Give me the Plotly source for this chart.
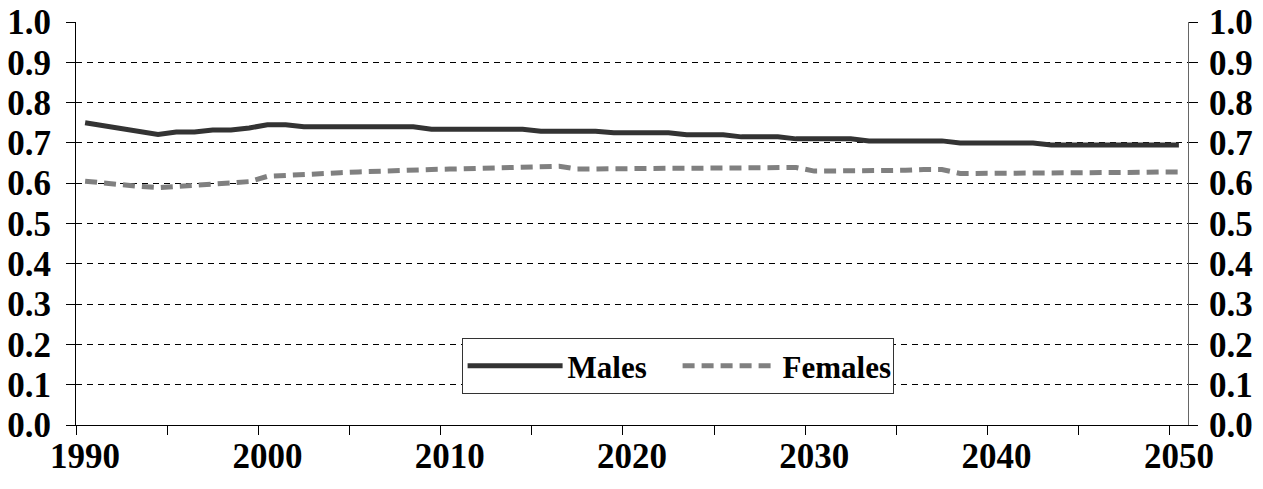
import plotly.graph_objects as go

# Annual values, 1990-2050
years = list(range(1990, 2051))

males = [
    0.750, 0.743, 0.734, 0.727, 0.721, 0.727, 0.727, 0.732, 0.732, 0.737,  # 1990-1999
    0.745, 0.745, 0.740, 0.740, 0.740, 0.740, 0.740, 0.740, 0.740, 0.734,  # 2000-2009
    0.734, 0.734, 0.734, 0.734, 0.734, 0.729, 0.729, 0.729, 0.729, 0.725,  # 2010-2019
    0.725, 0.725, 0.725, 0.720, 0.720, 0.720, 0.715, 0.715, 0.715, 0.710,  # 2020-2029
    0.710, 0.710, 0.710, 0.705, 0.705, 0.705, 0.705, 0.705, 0.700, 0.700,  # 2030-2039
    0.700, 0.700, 0.700, 0.695, 0.695, 0.695, 0.695, 0.695, 0.695, 0.695,  # 2040-2049
    0.695,                                                                 # 2050
]

females = [
    0.605, 0.600, 0.596, 0.592, 0.589, 0.592, 0.596, 0.599, 0.602, 0.604,  # 1990-1999
    0.617, 0.620, 0.622, 0.623, 0.626, 0.628, 0.630, 0.633, 0.633, 0.634,  # 2000-2009
    0.635, 0.636, 0.636, 0.639, 0.641, 0.642, 0.642, 0.635, 0.636, 0.636,  # 2010-2019
    0.635, 0.636, 0.637, 0.637, 0.637, 0.638, 0.638, 0.638, 0.639, 0.639,  # 2020-2029
    0.630, 0.630, 0.631, 0.632, 0.632, 0.632, 0.634, 0.634, 0.624, 0.624,  # 2030-2039
    0.625, 0.625, 0.625, 0.626, 0.626, 0.626, 0.627, 0.627, 0.627, 0.628,  # 2040-2049
    0.628,                                                                 # 2050
]

x_labels = list(range(1990, 2051, 10))
x_tick_marks = [1989.5 + 5 * k for k in range(13)]
y_ticks = [round(0.1 * k, 1) for k in range(11)]

SERIF = "Liberation Serif, Times New Roman, Times, serif"
TICK_FONT = dict(family=SERIF, size=35, color="black", weight=700)
LEGEND_FONT = dict(family=SERIF, size=31, color="black", weight=700)

fig = go.Figure()
fig.add_trace(go.Scatter(
    x=years, y=males, name="Males", mode="lines",
    line=dict(color="#333333", width=5),
))
fig.add_trace(go.Scatter(
    x=years, y=females, name="Females", mode="lines",
    line=dict(color="#808080", width=5, dash="12px,7px"),
))
# mirror axis on the right
fig.add_trace(go.Scatter(
    x=[years[0]], y=[0], yaxis="y2", mode="lines",
    showlegend=False, hoverinfo="skip", line=dict(width=0),
))

fig.update_layout(
    width=1263, height=489,
    margin=dict(l=76, r=75, t=22, b=64),
    paper_bgcolor="white", plot_bgcolor="white",
    font=TICK_FONT,
    showlegend=True,
    legend=dict(
        orientation="h", x=0.541, y=0.146, xanchor="center", yanchor="middle",
        bordercolor="#333333", borderwidth=1, bgcolor="white",
        font=LEGEND_FONT, itemwidth=95, entrywidth=105, entrywidthmode="pixels",
    ),
    xaxis=dict(
        range=[1989.5, 2050.5], automargin=False,
        tickmode="array", tickvals=x_labels, ticktext=[str(v) for v in x_labels],
        ticks="", showgrid=False, zeroline=False,
        showline=True, linecolor="black", linewidth=1,
        tickfont=TICK_FONT, ticklabelstandoff=0,
        minor=dict(tickmode="array", tickvals=x_tick_marks, ticks="outside",
                   ticklen=9, tickcolor="black", tickwidth=1, showgrid=False),
    ),
    yaxis=dict(
        range=[0, 1], automargin=False,
        tickmode="array", tickvals=y_ticks, tickformat=".1f",
        ticks="outside", ticklen=9, tickcolor="black",
        showline=True, linecolor="black", linewidth=1,
        showgrid=True, gridcolor="black", gridwidth=1, griddash="6px,5px",
        zeroline=False, tickfont=TICK_FONT, ticklabelstandoff=8,
    ),
    yaxis2=dict(
        range=[0, 1], automargin=False,
        tickmode="array", tickvals=y_ticks, tickformat=".1f",
        overlaying="y", side="right", anchor="x",
        ticks="outside", ticklen=9, tickcolor="black",
        showline=True, linecolor="#666666", linewidth=1,
        showgrid=False, zeroline=False, tickfont=TICK_FONT, ticklabelstandoff=4,
    ),
)

fig.write_html("out.html")
